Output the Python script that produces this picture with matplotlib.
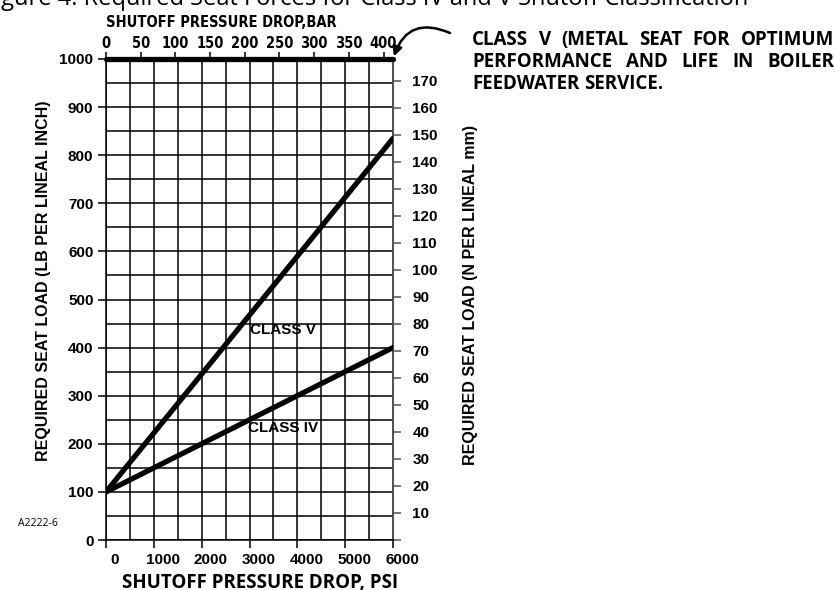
import matplotlib
matplotlib.use("Agg")
import matplotlib.pyplot as plt
import matplotlib.transforms as mtransforms

# datos
psi = [0, 6000]
clase_iv = [100, 400]
clase_v = [100, 835]
clase_v_metal = [1000, 1000]

psi_ticks = [0, 1000, 2000, 3000, 4000, 5000, 6000]
lb_ticks = [0, 100, 200, 300, 400, 500, 600, 700, 800, 900, 1000]
bar_ticks = [0, 50, 100, 150, 200, 250, 300, 350, 400]
nmm_ticks = list(range(0, 180, 10))

PSI_POR_BAR = 14.5038
N_MM_POR_LB_IN = 0.178

titulo = "Figure 4. Required Seat Forces for Class IV and V Shutoff Classification"
nota = ["CLASS V (METAL SEAT FOR OPTIMUM",
        "PERFORMANCE AND LIFE IN BOILER",
        "FEEDWATER SERVICE."]

arial = ["Liberation Sans", "DejaVu Sans"]
myriad = ["Open Sans", "Noto Sans", "DejaVu Sans"]
narrow = ["DejaVu Sans"]

W, H = 834, 590
fig = plt.figure(figsize=(W / 100, H / 100), dpi=100)
ax = fig.add_axes([106 / W, 50 / H, 287 / W, 481 / H])

ax.set_xlim(0, 6000)
ax.set_ylim(0, 1000)

# cuadricula
ax.set_xticks(range(0, 6001, 500), minor=True)
ax.set_yticks(range(0, 1001, 50), minor=True)
ax.grid(which="both", color="black", lw=1.1)
ax.tick_params(which="minor", length=0)
ax.set_axisbelow(True)

ax.plot(psi, clase_v, color="black", lw=3.8, solid_capstyle="round", zorder=3)
ax.plot(psi, clase_iv, color="black", lw=3.8, solid_capstyle="round", zorder=3)
ax.plot(psi, clase_v_metal, color="black", lw=3.8, solid_capstyle="round",
        zorder=3, clip_on=False)

ax.text(3000, 437, "CLASS V", fontsize=11, fontweight="bold", family=arial,
        va="center", zorder=4)
ax.text(2960, 233, "CLASS IV", fontsize=11, fontweight="bold", family=arial,
        va="center", zorder=4)

ax.spines["top"].set_visible(False)
ax.spines["left"].set_linewidth(1.1)
ax.spines["bottom"].set_linewidth(1.1)
ax.spines["right"].set_color("#555555")
ax.spines["right"].set_linewidth(1.3)

ax.set_xticks(psi_ticks)
ax.set_yticks(lb_ticks)
ax.tick_params(which="major", direction="out", length=6, width=1.1,
               labelsize=11, pad=3)
for lbl in ax.get_xticklabels() + ax.get_yticklabels():
    lbl.set_family(arial)
    lbl.set_fontweight("bold")
desplaza = mtransforms.ScaledTranslation(9 / 100, 0, fig.dpi_scale_trans)
for lbl in ax.get_xticklabels():
    lbl.set_transform(lbl.get_transform() + desplaza)

ax.set_ylabel("REQUIRED SEAT LOAD (LB PER LINEAL INCH)", fontsize=11.5,
              fontweight="bold", family=arial)
ax.yaxis.set_label_coords(-0.19, 0.54)

# eje superior en bar
top = ax.secondary_xaxis("top", functions=(lambda x: x / PSI_POR_BAR,
                                           lambda b: b * PSI_POR_BAR))
top.set_xticks(bar_ticks)
top.tick_params(direction="out", length=5, width=1.1, labelsize=10.5, pad=1)
for lbl in top.get_xticklabels():
    lbl.set_family(narrow)
    lbl.set_fontweight("bold")
    lbl.set_fontstretch("condensed")
top.spines["top"].set_visible(False)

# eje derecho en N/mm
der = ax.secondary_yaxis("right", functions=(lambda v: v * N_MM_POR_LB_IN,
                                             lambda n: n / N_MM_POR_LB_IN))
der.set_yticks(nmm_ticks)
der.set_yticklabels([""] + [str(n) for n in nmm_ticks[1:]])
der.tick_params(direction="out", length=6, width=1.1, labelsize=11, pad=8,
                color="#555555")
for lbl in der.get_yticklabels():
    lbl.set_family(arial)
    lbl.set_fontweight("bold")
der.spines["right"].set_color("#555555")

# etiquetas de ejes como texto de figura
fig.text(260 / W, 1 - 588 / H, "SHUTOFF PRESSURE DROP, PSI", fontsize=13.5,
         fontweight="bold", family=myriad, ha="center", va="baseline")
fig.text(221 / W, 1 - 27 / H, "SHUTOFF PRESSURE DROP,BAR", fontsize=10.5,
         fontweight="bold", family=narrow, fontstretch="condensed",
         ha="center", va="baseline")
fig.text(470 / W, 1 - 295 / H, "REQUIRED SEAT LOAD (N PER LINEAL mm)",
         fontsize=11.5, fontweight="bold", family=arial, rotation=90,
         ha="center", va="center")

# flecha curva
ax.annotate("", xy=(6000, 1000), xycoords="data",
            xytext=(450 / W, 1 - 33 / H), textcoords="figure fraction",
            arrowprops=dict(arrowstyle="-|>", color="black", lw=1.8,
                            mutation_scale=14, shrinkA=0, shrinkB=2,
                            connectionstyle="arc3,rad=0.55"))

# texto justificado de la derecha
renderer = fig.canvas.get_renderer()
x0, x1 = 472, 834
bases = [45, 67, 89]
for i, linea in enumerate(nota):
    palabras = linea.split()
    textos = [fig.text(0, 1 - bases[i] / H, p, fontsize=13.5, fontweight="bold",
                       family=myriad, va="baseline") for p in palabras]
    anchos = [t.get_window_extent(renderer).width for t in textos]
    if i < len(nota) - 1:
        hueco = (x1 - x0 - sum(anchos)) / (len(palabras) - 1)
    else:
        hueco = 4.5
    x = x0
    for t, a in zip(textos, anchos):
        t.set_x(x / W)
        x += a + hueco

fig.text(-17 / W, 1 - 5 / H, titulo, fontsize=17, family=myriad, va="baseline")
fig.text(18 / W, 1 - 526 / H, "A2222-6", fontsize=7.5, family=myriad,
         va="baseline")

fig.savefig("out.png", dpi=100)
